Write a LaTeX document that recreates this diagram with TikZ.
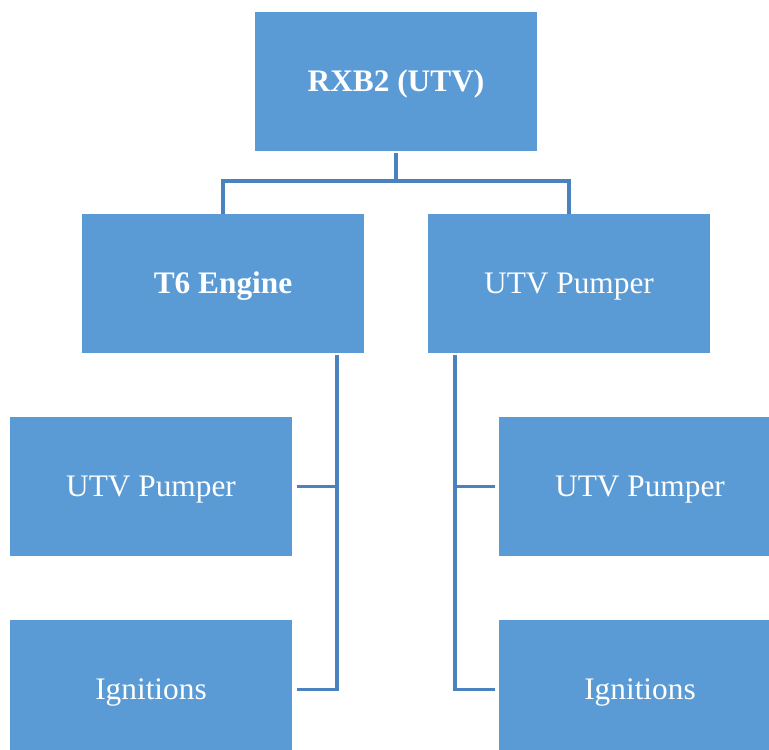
\documentclass[tikz,border=0pt]{standalone}
\usepackage{fontspec}
\setmainfont{Liberation Serif}
\definecolor{boxblue}{HTML}{5B9BD5}
\definecolor{lineblue}{HTML}{4A82BE}
\newcommand\boxtxt[1]{\smash{\raisebox{-7.8pt}{#1}}}
\begin{document}
\begin{tikzpicture}[x=0.75pt,y=-0.75pt,
  box/.style={draw=none, fill=boxblue, minimum width=211.5pt, minimum height=104.25pt,
    inner sep=0pt, text=white, font=\fontsize{23.5}{28}\selectfont},
  conn/.style={draw=lineblue, line width=2.3pt}]
\useasboundingbox (0,0) rectangle (769,750);
\clip (0,0) rectangle (769,750);
\node[box, font=\fontsize{23.5}{28}\selectfont\bfseries] (top) at (396,81) {\boxtxt{RXB2 (UTV)}};
\node[box, font=\fontsize{23.5}{28}\selectfont\bfseries] (t6) at (223,283.5) {\boxtxt{T6 Engine}};
\node[box] (pump) at (569,283.5) {\boxtxt{UTV Pumper}};
\node[box] (l1) at (151,486.5) {\boxtxt{UTV Pumper}};
\node[box] (l2) at (151,689.5) {\boxtxt{Ignitions}};
\node[box] (r1) at (640,486.5) {\boxtxt{UTV Pumper}};
\node[box] (r2) at (640,689.5) {\boxtxt{Ignitions}};
\coordinate (tj) at (396,181);
\coordinate (lj) at (337,355);
\coordinate (rj) at (455,355);
\draw[conn, shorten <=1.5pt] (top.south) -- (tj) -| (t6.north);
\draw[conn] (tj) -| (pump.north);
\draw[conn, shorten >=3.75pt] (lj) |- (l1.east);
\draw[conn, shorten >=3.75pt] (lj) |- (l2.east);
\draw[conn, shorten >=2.5pt] (rj) |- (r1.west);
\draw[conn, shorten >=2.5pt] (rj) |- (r2.west);
\end{tikzpicture}
\end{document}
